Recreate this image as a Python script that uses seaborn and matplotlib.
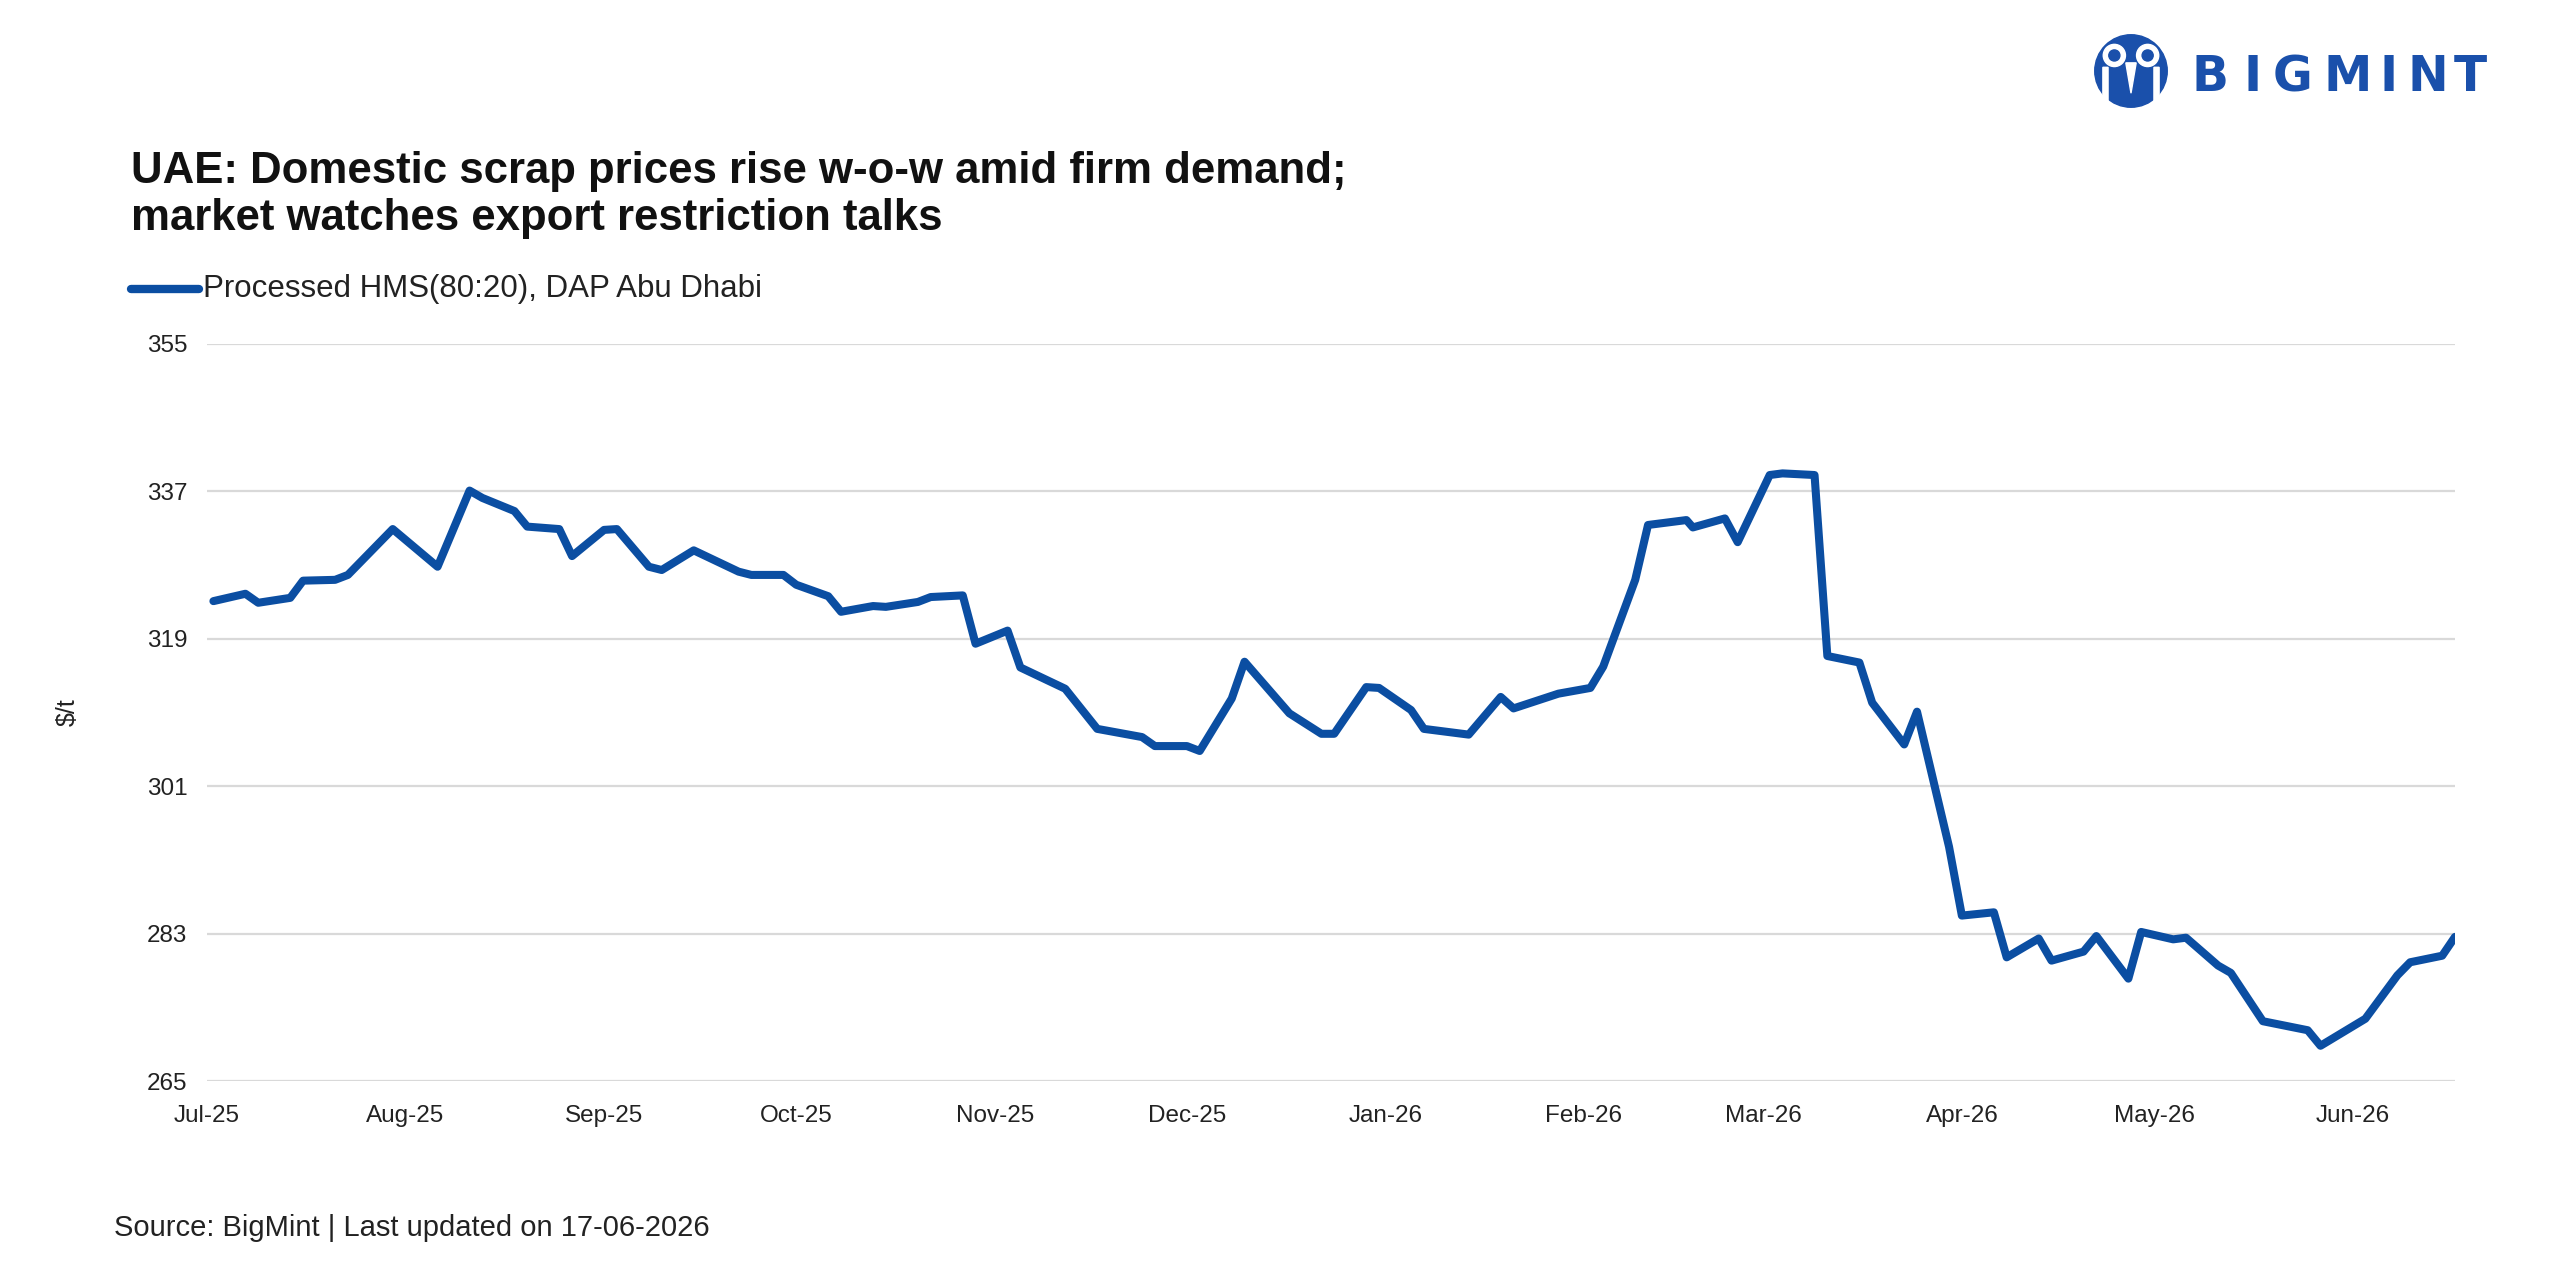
import matplotlib
matplotlib.use('Agg')
import matplotlib.pyplot as plt
import matplotlib.dates as mdates
from matplotlib.patches import Circle, Polygon
import seaborn as sns
import pandas as pd

sns.set_style('white')
plt.rcParams['font.family'] = ['Liberation Sans', 'DejaVu Sans']

# Processed HMS(80:20), DAP Abu Dhabi ($/t)
dates = [
    '2025-07-02', '2025-07-07', '2025-07-09', '2025-07-14', '2025-07-16', '2025-07-21', '2025-07-23',
    '2025-07-30', '2025-08-06', '2025-08-11', '2025-08-13', '2025-08-18', '2025-08-20', '2025-08-25',
    '2025-08-27', '2025-09-01', '2025-09-03', '2025-09-08', '2025-09-10', '2025-09-15', '2025-09-22',
    '2025-09-24', '2025-09-29', '2025-10-01', '2025-10-06', '2025-10-08', '2025-10-13', '2025-10-15',
    '2025-10-20', '2025-10-22', '2025-10-27', '2025-10-29', '2025-11-03', '2025-11-05', '2025-11-12',
    '2025-11-17', '2025-11-24', '2025-11-26', '2025-12-01', '2025-12-03', '2025-12-08', '2025-12-10',
    '2025-12-17', '2025-12-22', '2025-12-24', '2025-12-29', '2025-12-31', '2026-01-05', '2026-01-07',
    '2026-01-14', '2026-01-19', '2026-01-21', '2026-01-28', '2026-02-02', '2026-02-04', '2026-02-09',
    '2026-02-11', '2026-02-17', '2026-02-18', '2026-02-23', '2026-02-25', '2026-03-02', '2026-03-04',
    '2026-03-09', '2026-03-11', '2026-03-16', '2026-03-18', '2026-03-23', '2026-03-25', '2026-03-30',
    '2026-04-01', '2026-04-06', '2026-04-08', '2026-04-13', '2026-04-15', '2026-04-20', '2026-04-22',
    '2026-04-27', '2026-04-29', '2026-05-04', '2026-05-06', '2026-05-11', '2026-05-13', '2026-05-18',
    '2026-05-25', '2026-05-27', '2026-06-03', '2026-06-08', '2026-06-10', '2026-06-15', '2026-06-17',
]
prices = [
    323.6, 324.5, 323.4, 324.0, 326.1, 326.2, 326.8,
    332.4, 327.8, 337.1, 336.2, 334.6, 332.7, 332.4,
    329.1, 332.3, 332.4, 327.8, 327.4, 329.8, 327.2,
    326.8, 326.8, 325.6, 324.2, 322.3, 323.0, 322.9,
    323.5, 324.1, 324.3, 318.4, 320.0, 315.5, 312.9,
    308.0, 307.0, 305.9, 305.9, 305.3, 311.7, 316.2,
    309.9, 307.4, 307.4, 313.1, 313.0, 310.3, 308.0,
    307.3, 311.9, 310.5, 312.3, 313.0, 315.6, 326.2,
    332.9, 333.5, 332.6, 333.7, 330.8, 339.0, 339.2,
    339.0, 316.9, 316.1, 311.2, 306.1, 310.1, 293.6,
    285.2, 285.6, 280.1, 282.4, 279.7, 280.8, 282.7,
    277.5, 283.2, 282.3, 282.5, 279.1, 278.2, 272.3,
    271.2, 269.3, 272.6, 277.9, 279.5, 280.3, 282.6,
]
y_ticks = [265, 283, 301, 319, 337, 355]
series_name = 'Processed HMS(80:20), DAP Abu Dhabi'

df = pd.DataFrame({'date': pd.to_datetime(dates), 'price': prices})

W, H = 2560, 1280
fig = plt.figure(figsize=(W / 100, H / 100), dpi=100)
fig.patch.set_facecolor('white')

blue = '#0b4ea2'
text_col = '#222222'
ax = fig.add_axes([207 / W, 1 - 1081 / H, (2455 - 207) / W, (1081 - 344) / H])
sns.lineplot(data=df, x='date', y='price', ax=ax, color=blue, linewidth=5.8, legend=False)

ax.set_ylim(265, 355)
ax.set_yticks(y_ticks)
ax.set_xlim(pd.Timestamp('2025-07-01'), df['date'].iloc[-1])
ax.xaxis.set_major_locator(mdates.MonthLocator())
ax.xaxis.set_major_formatter(mdates.DateFormatter('%b-%y'))
ax.grid(axis='y', color='#d9d9d9', linewidth=1.6)
ax.set_axisbelow(True)
for s in ax.spines.values():
    s.set_visible(False)
ax.tick_params(axis='both', length=0, labelsize=17.5, colors=text_col)
ax.tick_params(axis='y', pad=14)
ax.tick_params(axis='x', pad=17)
ax.set_xlabel('')
ax.set_ylabel('$/t', fontsize=18, color=text_col, labelpad=48)

# title and legend
fig.text(131 / W, 1 - 183 / H, 'UAE: Domestic scrap prices rise w-o-w amid firm demand;',
         fontsize=31.5, fontweight='bold', color='#111111', va='baseline')
fig.text(131 / W, 1 - 230 / H, 'market watches export restriction talks',
         fontsize=31.5, fontweight='bold', color='#111111', va='baseline')
fig.lines.append(plt.Line2D([131 / W, 199 / W], [1 - 289 / H] * 2, transform=fig.transFigure,
                            color=blue, linewidth=6, solid_capstyle='round'))
fig.text(203 / W, 1 - 289 / H, series_name, fontsize=22.5, color=text_col, va='center')

# source
fig.text(114 / W, 1 - 1228 / H, 'Source: BigMint | Last updated on 17-06-2026',
         fontsize=21, color=text_col, va='center')

# logo
logo = '#1a50ab'
lax = fig.add_axes([2094 / W, 1 - 108 / H, 74 / W, 74 / H])
lax.set_xlim(-1, 1)
lax.set_ylim(-1, 1)
lax.set_aspect('equal')
lax.axis('off')
lax.add_patch(Circle((0, 0), 0.98, color=logo))
for cx in (-0.45, 0.45):
    lax.add_patch(Circle((cx, 0.42), 0.3, color='white'))
    lax.add_patch(Circle((cx, 0.42), 0.15, color=logo))
lax.add_patch(Polygon([(-0.14, 0.22), (0.14, 0.22), (0.0, -0.6)], color='white'))
lax.add_patch(Polygon([(-0.76, 0.1), (-0.62, 0.1), (-0.62, -0.95), (-0.76, -0.85)], color='white'))
lax.add_patch(Polygon([(0.62, 0.1), (0.76, 0.1), (0.76, -0.85), (0.62, -0.95)], color='white'))

letters = 'BIGMINT'
xs = [2192, 2244, 2273, 2323, 2379, 2408, 2454]
for ch, x in zip(letters, xs):
    fig.text(x / W, 1 - 77 / H, ch, fontsize=35, fontweight='bold', color=logo,
             va='center', ha='left', family='DejaVu Sans')

fig.savefig('out.png', dpi=100, facecolor='white')
